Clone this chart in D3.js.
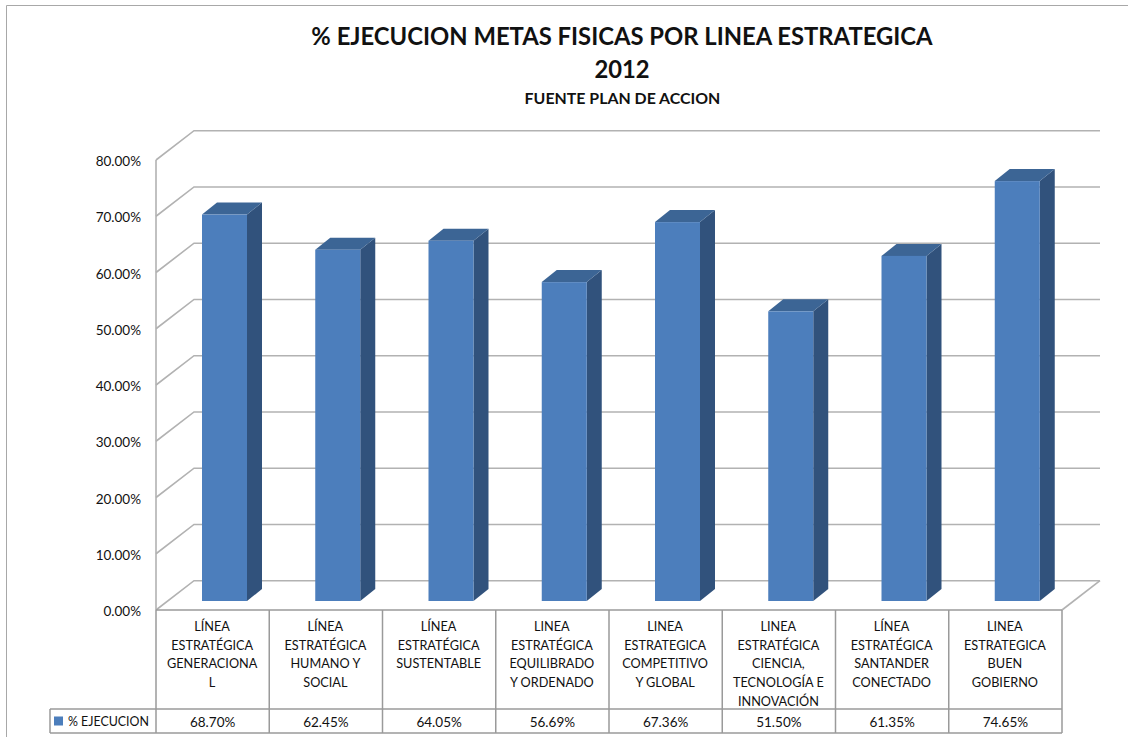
<!DOCTYPE html>
<html>
<head>
<meta charset="utf-8">
<script src="https://cdn.jsdelivr.net/npm/d3@7"></script>
<style>
    html, body { margin: 0; padding: 0; background: #fff; }
    svg { display: block; }
    text { font-family: Lato, "Open Sans", sans-serif; fill: #111; }
</style>
</head>
<body>
<div id="chart"></div>
<script>
// values
var categories = [
    ["LÍNEA", "ESTRATÉGICA", "GENERACIONA", "L"],
    ["LÍNEA", "ESTRATÉGICA", "HUMANO Y", "SOCIAL"],
    ["LÍNEA", "ESTRATÉGICA", "SUSTENTABLE"],
    ["LINEA", "ESTRATÉGICA", "EQUILIBRADO", "Y ORDENADO"],
    ["LINEA", "ESTRATEGICA", "COMPETITIVO", "Y GLOBAL"],
    ["LINEA", "ESTRATÉGICA", "CIENCIA,", "TECNOLOGÍA E", "INNOVACIÓN"],
    ["LÍNEA", "ESTRATÉGICA", "SANTANDER", "CONECTADO"],
    ["LINEA", "ESTRATEGICA", "BUEN", "GOBIERNO"]
];
var values = [68.70, 62.45, 64.05, 56.69, 67.36, 51.50, 61.35, 74.65];
var ticks = [0, 10, 20, 30, 40, 50, 60, 70, 80];
var seriesName = "% EJECUCION";
var titleLines = ["% EJECUCION METAS FISICAS POR LINEA ESTRATEGICA", "2012"];
var subtitle = "FUENTE PLAN DE ACCION";

var width = 1128, height = 737;
var plotLeft = 156, plotRight = 1062, plotBottom = 610, plotTop = 160;
var wallDx = 38, wallDy = -29.3;   // depth of the 3d box
var barDx = 15, barDy = -12;       // depth of one bar
var barWidth = 45, barShift = 46, baseLift = 9;
var gridColor = "#b2b2b2", tableColor = "#9a9a9a";

var svg = d3.select("#chart")
    .append("svg")
    .attr("width", width)
    .attr("height", height);

var x = d3.scaleBand()
    .domain(d3.range(categories.length))
    .range([plotLeft, plotRight]);

var y = d3.scaleLinear()
    .domain([0, 80])
    .range([plotBottom, plotTop]);

var fmt = function (d) { return d.toFixed(2) + "%"; };

// outer chart border
svg.append("path")
    .attr("d", "M6.5,737V5.5H1128")
    .attr("fill", "none")
    .attr("stroke", "#a8a8a8");

// titles
svg.selectAll(".title")
    .data(titleLines)
    .enter()
    .append("text")
    .attr("class", "title")
    .attr("x", 622)
    .attr("y", function (d, i) { return 45 + i * 33; })
    .attr("text-anchor", "middle")
    .attr("font-size", 23.8)
    .attr("font-weight", "bold")
    .text(function (d) { return d; });

svg.append("text")
    .attr("x", 622.5)
    .attr("y", 104)
    .attr("text-anchor", "middle")
    .attr("font-size", 15.9)
    .attr("font-weight", "bold")
    .text(subtitle);

// gridlines: side wall diagonal + back wall
svg.selectAll(".grid")
    .data(ticks)
    .enter()
    .append("path")
    .attr("class", "grid")
    .attr("fill", "none")
    .attr("stroke", gridColor)
    .attr("stroke-width", 1.6)
    .attr("d", function (d) {
        return "M" + plotLeft + "," + y(d) +
            "L" + (plotLeft + wallDx) + "," + (y(d) + wallDy) +
            "H" + (plotRight + wallDx);
    });

// floor edge on the right side
svg.append("path")
    .attr("fill", "none")
    .attr("stroke", gridColor)
    .attr("stroke-width", 1.6)
    .attr("d", "M" + plotRight + "," + plotBottom + "L" + (plotRight + wallDx) + "," + (plotBottom + wallDy));

// value axis line
svg.append("line")
    .attr("x1", plotLeft).attr("x2", plotLeft)
    .attr("y1", y(80)).attr("y2", y(0))
    .attr("stroke", gridColor)
    .attr("stroke-width", 1.6);

svg.selectAll(".ytick")
    .data(ticks)
    .enter()
    .append("text")
    .attr("class", "ytick")
    .attr("x", 141)
    .attr("y", function (d) { return y(d) + 6; })
    .attr("text-anchor", "end")
    .attr("font-size", 13.5)
    .text(fmt);

// bars
var bar = svg.selectAll(".bar")
    .data(values)
    .enter()
    .append("g")
    .attr("class", "bar");

function bx(i) { return x(i) + barShift; }
function by(d) { return y(d) - baseLift; }

// side face
bar.append("path")
    .attr("fill", "#31527c")
    .attr("d", function (d, i) {
        var x1 = bx(i) + barWidth, b = by(0);
        return "M" + x1 + "," + by(d) +
            "L" + (x1 + barDx) + "," + (by(d) + barDy) +
            "V" + (b + barDy) +
            "L" + x1 + "," + b + "Z";
    });

// top face
bar.append("path")
    .attr("fill", "#3c6595")
    .attr("d", function (d, i) {
        return "M" + bx(i) + "," + by(d) +
            "L" + (bx(i) + barDx) + "," + (by(d) + barDy) +
            "H" + (bx(i) + barWidth + barDx) +
            "L" + (bx(i) + barWidth) + "," + by(d) + "Z";
    });

// front face
bar.append("rect")
    .attr("fill", "#4c7ebc")
    .attr("x", function (d, i) { return bx(i); })
    .attr("y", function (d) { return by(d); })
    .attr("width", barWidth)
    .attr("height", function (d) { return by(0) - by(d); });

// data table
var rowLabel = plotBottom + 99, rowValue = plotBottom + 123, legendX = 50;

svg.append("path")
    .attr("fill", "none")
    .attr("stroke", tableColor)
    .attr("stroke-width", 1.5)
    .attr("d", "M" + legendX + "," + rowLabel + "H" + plotRight +
        "M" + legendX + "," + rowValue + "H" + plotRight +
        "M" + legendX + "," + rowLabel + "V" + rowValue +
        "M" + plotLeft + "," + plotBottom + "H" + plotRight);

svg.selectAll(".col")
    .data(d3.range(categories.length + 1))
    .enter()
    .append("line")
    .attr("class", "col")
    .attr("x1", function (d) { return plotLeft + d * x.bandwidth(); })
    .attr("x2", function (d) { return plotLeft + d * x.bandwidth(); })
    .attr("y1", plotBottom)
    .attr("y2", rowValue)
    .attr("stroke", tableColor)
    .attr("stroke-width", 1.5);

var cat = svg.selectAll(".cat")
    .data(categories)
    .enter()
    .append("text")
    .attr("class", "cat")
    .attr("text-anchor", "middle")
    .attr("font-size", 12.7);

cat.selectAll("tspan")
    .data(function (d, i) { return d.map(function (t) { return { t: t, i: i }; }); })
    .enter()
    .append("tspan")
    .attr("x", function (d) { return x(d.i) + x.bandwidth() / 2 - 0.5; })
    .attr("y", function (d, j) { return 631 + j * 18.7; })
    .text(function (d) { return d.t; });

svg.selectAll(".val")
    .data(values)
    .enter()
    .append("text")
    .attr("class", "val")
    .attr("x", function (d, i) { return x(i) + x.bandwidth() / 2; })
    .attr("y", 727)
    .attr("text-anchor", "middle")
    .attr("font-size", 13.5)
    .text(fmt);

// legend key in the table
svg.append("rect")
    .attr("x", 54).attr("y", 716.5)
    .attr("width", 9).attr("height", 9)
    .attr("fill", "#4c7ebc");

svg.append("text")
    .attr("x", 68)
    .attr("y", 726)
    .attr("font-size", 12.4)
    .text(seriesName);
</script>
</body>
</html>
